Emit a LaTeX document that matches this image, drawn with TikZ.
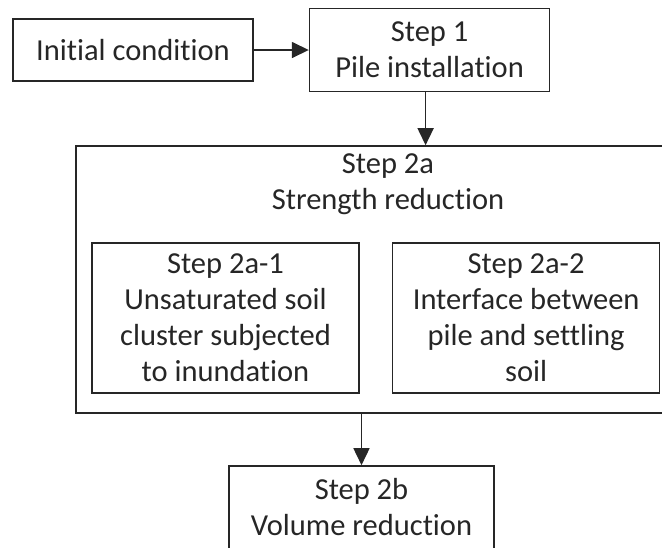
\documentclass[tikz,border=0pt]{standalone}
\usepackage{fontspec}
\setmainfont{Carlito}[Ligatures={NoCommon,NoRare,NoContextual}]
\usetikzlibrary{arrows.meta,positioning}
\tikzset{
  stepbox/.style={draw=black!85, line width=1.6pt, align=center, inner sep=0pt,
    font=\fontsize{30.5}{36}\selectfont, text=black!85},
  steptext/.style={align=center, inner sep=0pt, font=\fontsize{30.5}{36}\selectfont, text=black!85},
  flow/.style={draw=black!85, line width=1.6pt, -{Triangle[length=17pt,width=16pt]}}
}
\begin{document}
\begin{tikzpicture}[x=1pt, y=-1pt]
  \useasboundingbox (0,0) rectangle (662,547);
  \clip (0,0) rectangle (662,547);
  \node[stepbox, minimum width=240pt, minimum height=62pt] (init) at (133,50) {Initial condition};
  \node[stepbox, minimum width=240pt, minimum height=83pt, right=55pt of init] (s1) {Step 1\\Pile installation};
  % step 2a runs past the right edge
  \node[stepbox, minimum width=624pt, minimum height=267pt] (s2a) at (388,279.5) {};
  \node[steptext, anchor=north] (s2atitle) at ([yshift=-8pt]s2a.north) {Step 2a\\Strength reduction};
  \node[stepbox, minimum width=267pt, minimum height=150pt] (s2a1) at (225.5,318) {Step 2a-1\\Unsaturated soil\\cluster subjected\\to inundation};
  \node[stepbox, minimum width=267pt, minimum height=150pt, right=32pt of s2a1] (s2a2) {Step 2a-2\\Interface between\\pile and settling\\soil};
  \node[stepbox, minimum width=265pt, minimum height=83pt] (s2b) at (361.5,507.5) {Step 2b\\Volume reduction};
  \draw[flow] (init) -- (s1);
  \draw[flow] ([xshift=-4pt]s1.south) -- ([xshift=-4pt]s1.south |- s2a.north);
  \draw[flow] (s2a.south -| s2b.north) -- (s2b.north);
\end{tikzpicture}
\end{document}
